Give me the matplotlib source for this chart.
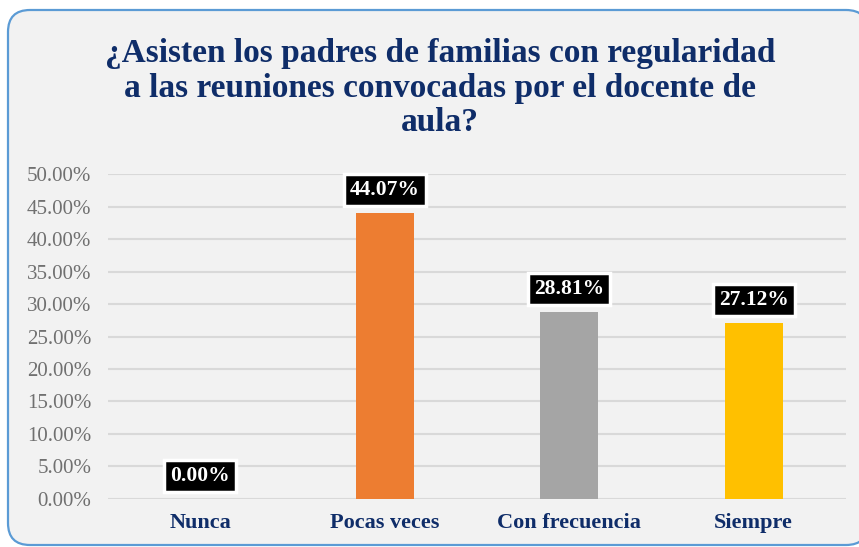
import matplotlib.pyplot as plt
from matplotlib.patches import FancyBboxPatch
from matplotlib.transforms import IdentityTransform
from matplotlib.ticker import FuncFormatter

categories = ["Nunca", "Pocas veces", "Con frecuencia", "Siempre"]
values = [0.0, 44.07, 28.81, 27.12]
colors = ["#4472C4", "#ED7D31", "#A5A5A5", "#FFC000"]
title = "¿Asisten los padres de familias con regularidad\na las reuniones convocadas por el docente de\naula?"

plt.rcParams["font.family"] = ["Liberation Serif", "DejaVu Serif"]
navy = "#0F2D69"

fig = plt.figure(figsize=(8.59, 5.47), dpi=100)
fig.patch.set_facecolor("white")

# rounded frame of the chart area
frame = FancyBboxPatch((8, 2), 860, 535, boxstyle="round,pad=0,rounding_size=22",
                       transform=IdentityTransform(), facecolor="#F2F2F2",
                       edgecolor="#5B9BD5", linewidth=1.6, zorder=-5)
fig.patches.append(frame)

ax = fig.add_axes([0.1257, 0.0878, 0.859, 0.594])
ax.set_facecolor("none")
x = range(len(categories))
ax.bar(x, values, width=0.314, color=colors, zorder=3)

ax.set_ylim(0, 50)
ax.set_xlim(-0.5, 3.5)
ax.set_yticks(range(0, 51, 5))
ax.yaxis.set_major_formatter(FuncFormatter(lambda v, p: f"{v:.2f}%"))
ax.grid(axis="y", color="#D9D9D9", linewidth=1.5, zorder=0)
for s in ax.spines.values():
    s.set_visible(False)
ax.tick_params(axis="y", length=0, pad=12, labelsize=15, labelcolor="#707070")
ax.tick_params(axis="x", length=0, pad=10)
ax.set_xticks(list(x))
ax.set_xticklabels(categories, fontsize=16, fontweight="bold", color=navy)

for i, v in enumerate(values):
    ax.annotate(f"{v:.2f}%", (i, v), xytext=(0, 16.5), textcoords="offset points",
                ha="center", va="center", fontsize=15.5, fontweight="bold", color="white",
                bbox=dict(boxstyle="square,pad=0.28", facecolor="black",
                          edgecolor="white", linewidth=2.5), zorder=5)

fig.text(0.512, 0.839, title, ha="center", va="center", fontsize=24,
         fontweight="bold", color=navy, linespacing=1.15)

fig.savefig("out.png", dpi=100)
